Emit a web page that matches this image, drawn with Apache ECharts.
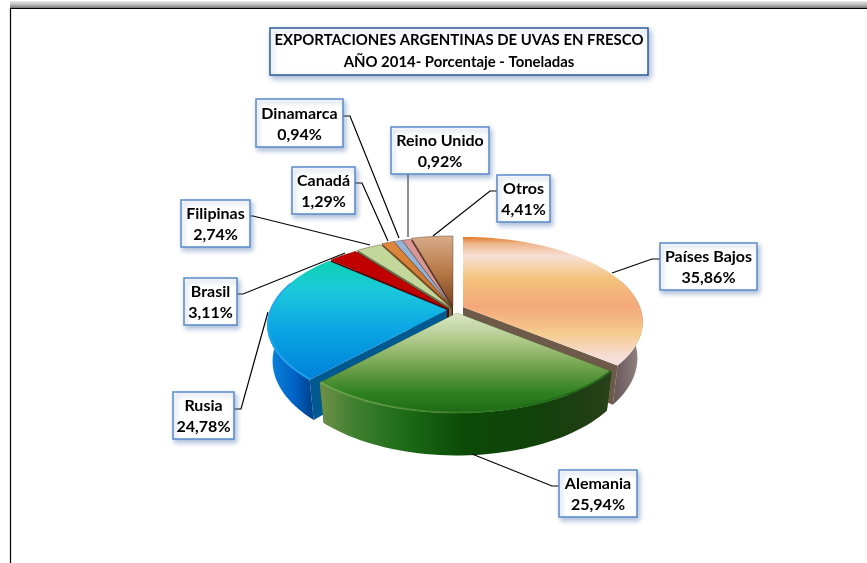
<!DOCTYPE html>
<html><head><meta charset="utf-8">
<style>html,body{margin:0;padding:0;background:#fff}#c{width:867px;height:563px}</style>
<script src="https://cdn.jsdelivr.net/npm/echarts@6/dist/echarts.min.js"></script>
</head><body><div id="c"></div>
<script>
const categories = ['Países Bajos','Alemania','Rusia','Brasil','Filipinas','Canadá','Dinamarca','Reino Unido','Otros'];
const values = [35.86,25.94,24.78,3.11,2.74,1.29,0.94,0.92,4.41];
const titleLines = ['EXPORTACIONES ARGENTINAS DE UVAS EN FRESCO','AÑO 2014- Porcentaje - Toneladas'];

// geometry and styling (separate from data)
const CX=452, CY=307, R=177, RY=82.4, K=0.176, DEPTH=35, BOTTOM_X=0.97;
const offsets=[[11,0],[5,6],[-5,3],[-3,2],[-1,1],[0,0],[0,0],[0,0],[1,-1]];
const drawOrder=[8,7,6,5,4,3,2,0,1];
const FONT='bold 16px Lato, "Open Sans", sans-serif';
const boxes=[[660,243,97,47],[559,470,78,47],[173,392,61,47],[184,278,53,47],[181,200,69,47],[292,167,63,47],[256,99,87,48],[391,127,98,47],[497,175,53,47]];
const leaders=[
 [[660,259],[652,259],[612,273]],
 [[559,486],[552,486],[472,454]],
 [[234,409],[241,409],[268,312]],
 [[237,294],[243,294],[345,253]],
 [[250,216],[253,216],[370,245]],
 [[355,183],[362,183],[388,241]],
 [[343,116],[350,116],[399,238]],
 [[408,174],[408,237]],
 [[497,191],[490,191],[433,236]]];
const G=echarts.graphic.LinearGradient;
const V=(stops)=>new G(0,0,0,1,stops.map(s=>({offset:s[0],color:s[1]})));
const H=(stops)=>new G(0,0,1,0,stops.map(s=>({offset:s[0],color:s[1]})));
const topFill=[
 V([[0,'#E27A28'],[.05,'#EDB48A'],[.15,'#F8E0D6'],[.33,'#F4C27A'],[.54,'#F4A87A'],[.75,'#F6CB8E'],[.94,'#F6DFDA'],[1,'#F6DFDA']]),
 V([[0,'#DDE7C8'],[.3,'#A9C582'],[.55,'#6EA04A'],[.8,'#2F8022'],[1,'#1D6A14']]),
 V([[0,'#0CD2B0'],[.25,'#1CC8DC'],[.55,'#0CA8E4'],[1,'#0080D8']]),
 '#C00000','#C4D79B',
 V([[0,'#E08A3C'],[1,'#C07030']]),
 '#95B3D7','#D99694',
 V([[0,'#D8AC8A'],[.5,'#B87A48'],[1,'#7A4420']])];
const wallFill=[
 H([[0,'#665656'],[.5,'#7E6E70'],[1,'#9A8A84']]),
 H([[0,'#6F9048'],[.12,'#3F8030'],[.3,'#1C6A16'],[.5,'#0B4A06'],[.72,'#10420A'],[.9,'#1E3E12'],[1,'#2A421C']]),
 H([[0,'#0A88DE'],[.6,'#0062C4'],[1,'#003E88']]),
 '#6A0000','#7F8C5E','#8A5520','#5F7390','#8A5F5E','#5E3216'];
const cutFill=['#6E5A48','#0B4A06','#005A92','#5A0000','#6A7850','#7A4A1C','#56688A','#7C5454','#4A2810'];
const rimColor=[null,H([[0,'#86B860'],[.35,'#4E8C34'],[.7,'#1D6A14'],[1,'#1D5A14']]),'#22A8F0'];

function pt(deg,r,o,down){
 const a=deg*Math.PI/180,u=Math.sin(a)*r,v=-Math.cos(a)*r,s=1/(1-K*v);
 return [CX+o[0]+R*u*s*(down?BOTTOM_X:1), CY+o[1]+RY*v*s+(down?DEPTH*s:0)];
}
function arc(a1,a2,o,down,r){
 const n=Math.max(2,Math.ceil(Math.abs(a2-a1)/2)),p=[];
 for(let i=0;i<=n;i++)p.push(pt(a1+(a2-a1)*i/n,r==null?1:r,o,down));
 return p;
}
const total=values.reduce((a,b)=>a+b,0);
let acc=0; const startPct=values.map(v=>{const s=acc;acc+=v;return s;});
const rows=drawOrder.map(i=>[startPct[i],values[i],i]);

function renderSlice(params,api){
 const s=api.value(0),v=api.value(1),i=api.value(2);
 const a1=s/total*360,a2=(s+v)/total*360,o=offsets[i];
 const kids=[];
 const face=(ang)=>({type:'polygon',silent:true,shape:{points:[pt(ang,0,o),pt(ang,1,o),pt(ang,1,o,true),pt(ang,0,o,true)]},style:{fill:cutFill[i]}});
 kids.push(face(a1),face(a2));
 const lo=Math.max(a1,70),hi=Math.min(a2,290);
 if(hi>lo)kids.push({type:'polygon',silent:true,shape:{points:arc(lo,hi,o,false).concat(arc(hi,lo,o,true))},style:{fill:wallFill[i]}});
 const pts=[pt(a1,0,o)].concat(arc(a1,a2,o,false));
 const small=i>2;
 kids.push({type:'polygon',silent:true,shape:{points:pts},style:{fill:topFill[i],stroke:small?'rgba(70,40,20,.55)':null,lineWidth:small?0.7:0}});
 if(rimColor[i]&&hi>lo)kids.push({type:'polyline',silent:true,shape:{points:arc(lo,hi,o,false,.995)},style:{fill:null,stroke:rimColor[i],lineWidth:2,opacity:.75}});
 return {type:'group',children:kids};
}
function renderLabel(params,api){
 const i=api.value(0),b=boxes[i];
 return {type:'group',children:[
  {type:'polyline',silent:true,shape:{points:leaders[i]},style:{fill:null,stroke:i===7?'#444':'#000',lineWidth:1.2}},
  {type:'rect',silent:true,shape:{x:b[0],y:b[1],width:b[2],height:b[3]},
   style:{fill:'#fff',stroke:'#5B8BC8',lineWidth:1.5,shadowBlur:5,shadowOffsetX:2,shadowOffsetY:3,shadowColor:'rgba(70,110,170,.45)'}},
  {type:'text',silent:true,style:{text:categories[i]+'\n'+values[i].toFixed(2).replace('.',',')+'%',x:b[0]+b[2]/2,y:b[1]+b[3]/2+1,
    align:'center',verticalAlign:'middle',font:FONT,lineHeight:21,fill:'#000'}}
 ]};
}
const chart=echarts.init(document.getElementById('c'));
chart.setOption({
 animation:false,
 backgroundColor:'#fff',
 title:{text:titleLines.join('\n'),left:454,top:28,textAlign:'center',padding:[1,5,2,5],
  backgroundColor:'#fff',borderColor:'#2F5C98',borderWidth:1.5,shadowBlur:6,shadowOffsetX:2,shadowOffsetY:3,shadowColor:'rgba(70,110,170,.5)',
  textStyle:{fontFamily:'Lato',fontSize:14.9,fontWeight:'bold',color:'#000',lineHeight:22}},
 graphic:[
  {type:'rect',silent:true,shape:{x:10,y:1,width:857,height:7},style:{fill:V([[0,'#E8E8E8'],[.5,'#BDBDBD'],[1,'#777']])}},
  {type:'line',silent:true,shape:{x1:10,y1:8.5,x2:867,y2:8.5},style:{stroke:'#000',lineWidth:1.2}},
  {type:'line',silent:true,shape:{x1:10.5,y1:8,x2:10.5,y2:563},style:{stroke:'#000',lineWidth:1.2}}
 ],
 series:[
  {type:'custom',coordinateSystem:'none',silent:true,data:rows,renderItem:renderSlice,z:2},
  {type:'custom',coordinateSystem:'none',silent:true,data:categories.map((c,i)=>[i]),renderItem:renderLabel,z:3}
 ]
});
</script></body></html>
